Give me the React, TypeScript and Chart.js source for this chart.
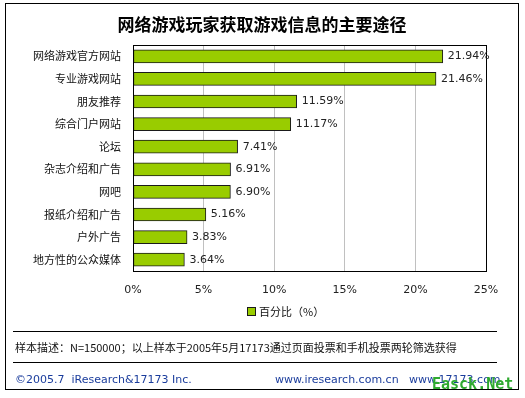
import React, { useEffect, useRef } from "react";
import { Chart, registerables } from "chart.js";

Chart.register(...registerables);

const categories = [
  "网络游戏官方网站",
  "专业游戏网站",
  "朋友推荐",
  "综合门户网站",
  "论坛",
  "杂志介绍和广告",
  "网吧",
  "报纸介绍和广告",
  "户外广告",
  "地方性的公众媒体",
];
const values = [21.94, 21.46, 11.59, 11.17, 7.41, 6.91, 6.9, 5.16, 3.83, 3.64];
const seriesName = "百分比（%）";
const titleText = "网络游戏玩家获取游戏信息的主要途径";
const sampleNote = "样本描述：N=150000；以上样本于2005年5月17173通过页面投票和手机投票两轮筛选获得";
const copyright = "©2005.7  iResearch&17173 Inc.";
const sites = "www.iresearch.com.cn   www.17173.com";
const watermark = "Easck.Net";

const CJK = '"Noto Sans CJK SC", "Noto Sans", sans-serif';
const BAR_COLOR = "#99cc00";

const decor = {
  id: "decor",
  afterDraw(chart: any) {
    const ctx = chart.ctx;
    const a = chart.chartArea;
    ctx.save();
    ctx.strokeStyle = "#000";
    ctx.lineWidth = 1;
    ctx.strokeRect(Math.round(a.left) + 0.5, Math.round(a.top) + 0.5, Math.round(a.right - a.left), Math.round(a.bottom - a.top));
    const meta = chart.getDatasetMeta(0);
    ctx.font = '11px Tahoma, "DejaVu Sans", sans-serif';
    ctx.fillStyle = "#222";
    ctx.textBaseline = "middle";
    ctx.textAlign = "left";
    meta.data.forEach((bar: any, i: number) => {
      ctx.fillText(values[i].toFixed(2) + "%", bar.x + 5, bar.y);
    });
    // title
    ctx.textAlign = "center";
    ctx.fillStyle = "#000";
    ctx.font = "bold 17px " + CJK;
    ctx.fillText(titleText, 262, 25);
    ctx.textAlign = "left";
    // legend
    ctx.fillStyle = BAR_COLOR;
    ctx.fillRect(247, 307, 9, 9);
    ctx.strokeStyle = "#1a1a1a";
    ctx.strokeRect(247.5, 307.5, 8, 8);
    ctx.fillStyle = "#111";
    ctx.font = "11px " + CJK;
    ctx.fillText(seriesName, 259, 312);
    // frame
    ctx.strokeStyle = "#000";
    ctx.strokeRect(5.5, 3.5, 513, 386);
    ctx.beginPath();
    ctx.moveTo(13, 331.5);
    ctx.lineTo(497, 331.5);
    ctx.moveTo(13, 362.5);
    ctx.lineTo(497, 362.5);
    ctx.stroke();
    ctx.font = "11px " + CJK;
    ctx.fillStyle = "#111";
    ctx.fillText(sampleNote, 15, 348);
    ctx.fillStyle = "#1a3c9c";
    ctx.font = '11px Tahoma, "DejaVu Sans", sans-serif';
    ctx.fillText(copyright, 15, 380);
    ctx.fillText(sites, 275, 380);
    ctx.font = 'bold 15px "DejaVu Sans Mono", monospace';
    ctx.fillStyle = "#2faa2f";
    ctx.fillText(watermark, 432, 385);
    ctx.restore();
  },
};

export default function App() {
  const ref = useRef<HTMLCanvasElement>(null);
  useEffect(() => {
    document.body.style.margin = "0";
    const chart = new Chart(ref.current!, {
      type: "bar",
      data: {
        labels: categories,
        datasets: [
          {
            label: seriesName,
            data: values,
            backgroundColor: BAR_COLOR,
            borderColor: "#1a1a1a",
            borderWidth: 1,
            borderSkipped: false,
            barThickness: 13,
          },
        ],
      },
      plugins: [decor],
      options: {
        indexAxis: "y",
        responsive: false,
        animation: false,
        devicePixelRatio: 1,
        layout: { padding: { left: 0, right: 39, top: 45, bottom: 97 } },
        scales: {
          x: {
            min: 0,
            max: 25,
            ticks: {
              stepSize: 5,
              callback: (v: any) => v + "%",
              color: "#222",
              font: { family: 'Tahoma, "DejaVu Sans", sans-serif', size: 11 },
              padding: 13,
            },
            grid: { color: "#c0c0c0", drawTicks: false },
            border: { display: false },
            afterFit: (s: any) => {
              s.height = 30;
            },
          },
          y: {
            ticks: {
              color: "#111",
              font: { family: CJK, size: 11 },
              padding: 4,
            },
            grid: { display: false },
            border: { display: false },
            afterFit: (s: any) => {
              s.width = 133;
            },
          },
        },
        plugins: {
          title: { display: false },
          legend: { display: false },
          tooltip: { enabled: false },
        },
      },
    });
    return () => chart.destroy();
  }, []);
  return (
    <div style={{ position: "absolute", left: 0, top: 0, width: 525, height: 398, background: "#fff" }}>
      <canvas ref={ref} width={525} height={398} />
    </div>
  );
}
